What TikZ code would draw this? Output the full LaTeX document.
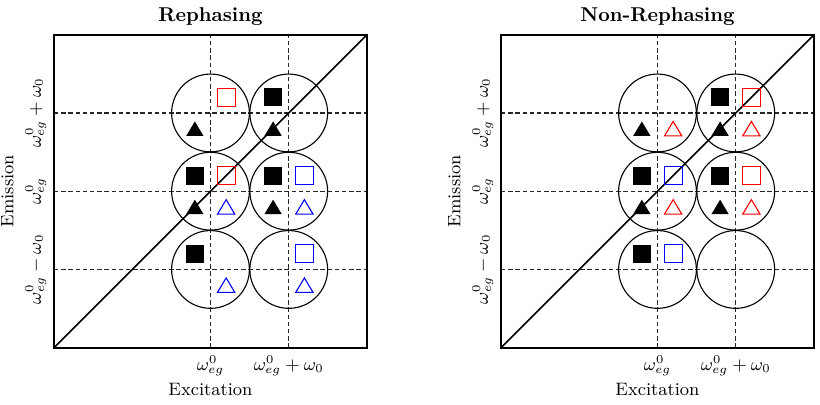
\documentclass[tikz,border=0pt]{standalone}
\usepackage{amsmath}
\begin{document}
\begin{tikzpicture}[x=0.5pt,y=0.5pt,
  frame/.style={line width=0.9pt},
  guide/.style={black!85,line width=0.6pt,dash pattern=on 2.2pt off 1.4pt},
  ring/.style={line width=0.55pt},
  diag/.style={line width=0.75pt},
  ticklbl/.style={font=\fontsize{9}{10}\selectfont,inner sep=0pt},
  axislbl/.style={font=\fontsize{9}{10}\selectfont,inner sep=0pt},
  titlelbl/.style={font=\fontsize{10}{12}\selectfont\bfseries,inner sep=0pt},
  filled/.style={fill=black},
  openred/.style={draw=red,line width=0.55pt},
  openblue/.style={draw=blue,line width=0.55pt},
  sq/.pic={\path[pic actions] (-0.115,-0.115) rectangle (0.115,0.115);},
  tri/.pic={\path[pic actions] (-0.11,-0.092) -- (0.11,-0.092) -- (0,0.092) -- cycle;}
]
\useasboundingbox (0,0) rectangle (820,404);

% one panel: frame, guide lines, circles, diagonal and labels
\newcommand{\drawpanel}[2]{%
  \draw[guide] (2,0) -- (2,4) (3,0) -- (3,4);
  \draw[guide] (0,1) -- (4,1) (0,2) -- (4,2) (0,3) -- (4,3);
  \foreach \cx in {2,3}{\foreach \cy in {1,2,3}{
    \draw[ring] (\cx,\cy) circle (0.497);}}
  \draw[diag] (0,0) -- (4,4);
  \node[titlelbl,anchor=base] (#1title) at (2,4.17) {#2};
  \node[ticklbl,anchor=north] (#1xa) at (2,-0.093) {$\omega_{eg}^0$};
  \node[ticklbl,anchor=north] (#1xb) at (3,-0.093) {$\omega_{eg}^0+\omega_0$};
  \node[axislbl,anchor=base] (#1xlab) at (2,-0.61) {Excitation};
  \node[ticklbl,rotate=90,anchor=south] (#1ya) at (-0.093,1) {$\omega_{eg}^0-\omega_0$};
  \node[ticklbl,rotate=90,anchor=south] (#1yb) at (-0.093,2) {$\omega_{eg}^0$};
  \node[ticklbl,rotate=90,anchor=south] (#1yc) at (-0.093,3) {$\omega_{eg}^0+\omega_0$};
  \node[axislbl,rotate=90,anchor=base] (#1ylab) at (-0.52,2) {Emission};
}

% Rephasing
\begin{scope}[shift={(27pt,28.15pt)},x=39.125pt,y=39.125pt]
  \drawpanel{r}{Rephasing}
  % circle (2,3)
  \pic[openred] at (2.2,3.2) {sq};
  \pic[filled] at (1.8,2.8) {tri};
  % circle (3,3)
  \pic[filled] at (2.8,3.2) {sq};
  \pic[filled] at (2.8,2.8) {tri};
  % circle (2,2)
  \pic[filled] at (1.8,2.2) {sq};
  \pic[openred] at (2.2,2.2) {sq};
  \pic[filled] at (1.8,1.8) {tri};
  \pic[openblue] at (2.2,1.8) {tri};
  % circle (3,2)
  \pic[filled] at (2.8,2.2) {sq};
  \pic[openblue] at (3.2,2.2) {sq};
  \pic[filled] at (2.8,1.8) {tri};
  \pic[openblue] at (3.2,1.8) {tri};
  % circle (2,1)
  \pic[filled] at (1.8,1.2) {sq};
  \pic[openblue] at (2.2,0.8) {tri};
  % circle (3,1)
  \pic[openblue] at (3.2,1.2) {sq};
  \pic[openblue] at (3.2,0.8) {tri};
  \draw[frame] (0,0) rectangle (4,4);
\end{scope}

% Non-Rephasing
\begin{scope}[shift={(250.5pt,28.15pt)},x=39.125pt,y=39.125pt]
  \drawpanel{n}{Non-Rephasing}
  % circle (2,3)
  \pic[filled] at (1.8,2.8) {tri};
  \pic[openred] at (2.2,2.8) {tri};
  % circle (3,3)
  \pic[filled] at (2.8,3.2) {sq};
  \pic[openred] at (3.2,3.2) {sq};
  \pic[filled] at (2.8,2.8) {tri};
  \pic[openred] at (3.2,2.8) {tri};
  % circle (2,2)
  \pic[filled] at (1.8,2.2) {sq};
  \pic[openblue] at (2.2,2.2) {sq};
  \pic[filled] at (1.8,1.8) {tri};
  \pic[openred] at (2.2,1.8) {tri};
  % circle (3,2)
  \pic[filled] at (2.8,2.2) {sq};
  \pic[openred] at (3.2,2.2) {sq};
  \pic[filled] at (2.8,1.8) {tri};
  \pic[openred] at (3.2,1.8) {tri};
  % circle (2,1)
  \pic[filled] at (1.8,1.2) {sq};
  \pic[openblue] at (2.2,1.2) {sq};
  \draw[frame] (0,0) rectangle (4,4);
\end{scope}
\end{tikzpicture}
\end{document}
